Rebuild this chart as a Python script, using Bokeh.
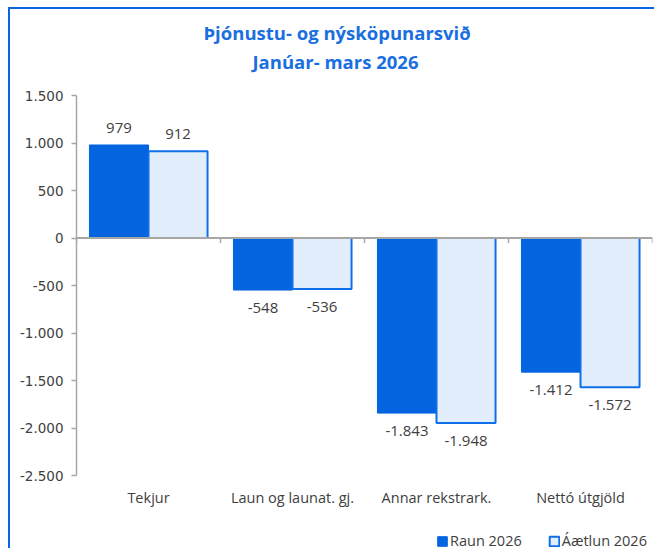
from bokeh.plotting import figure
from bokeh.models import (ColumnDataSource, Range1d, FixedTicker, LinearAxis, Title,
                          Legend, LegendItem, Span)
from bokeh.core.properties import value
from bokeh.transform import dodge
from bokeh.embed import file_html
from bokeh.resources import INLINE
import math

# ---- data ----
categories = ["Tekjur", "Laun og launat. gj.", "Annar rekstrark.", "Nettó útgjöld"]
raun = [979, -548, -1843, -1412]
aaetlun = [912, -536, -1948, -1572]
y_ticks = [-2500, -2000, -1500, -1000, -500, 0, 500, 1000, 1500]
title_1 = "Þjónustu- og nýsköpunarsvið"
title_2 = "Janúar- mars 2026"
series_names = ["Raun 2026", "Áætlun 2026"]


def fmt(v):
    return f"{v:,}".replace(",", ".")


BLUE = "#0564E0"
LIGHT = "#E2EEFB"
EDGE = "#0F6FEA"
TXT = "#404040"
AXIS = "#A6A6A6"
TITLE_C = "#1A6FE0"

n = len(categories)
centers = [float(i) + 0.5 for i in range(n)]
boundaries = [float(i) for i in range(n + 1)]

src = ColumnDataSource(dict(
    x=centers,
    cat=categories,
    base=[y_ticks[0]] * n,
    raun=raun,
    aaetlun=aaetlun,
    raun_lbl=[fmt(v) for v in raun],
    aaetlun_lbl=[fmt(v) for v in aaetlun],
    raun_off=[-17 if v >= 0 else 18 for v in raun],
    aaetlun_off=[-17 if v >= 0 else 18 for v in aaetlun],
))
bsrc = ColumnDataSource(dict(x=boundaries, y=[0.0] * len(boundaries)))

# frame spans from the top of the axis to the bottom of the chart; the extra
# space below the axis holds the category labels and the legend
FRAME_H = 455
AXIS_H = 380
y_lo = y_ticks[-1] - (y_ticks[-1] - y_ticks[0]) * FRAME_H / AXIS_H

p = figure(width=646, height=541, output_backend="svg", toolbar_location=None,
           x_range=Range1d(0, n), y_range=Range1d(y_lo, y_ticks[-1]),
           min_border_left=66, min_border_right=4, min_border_top=86, min_border_bottom=0,
           styles={"border-left": "2px solid #0A66E0", "border-top": "2px solid #0A66E0",
                   "margin-left": "8px", "margin-top": "7px"})
p.outline_line_color = None
p.grid.visible = False
p.xaxis.visible = False
p.yaxis.visible = False

# titles (spacer nearest to the frame, then line 2, then line 1)
p.add_layout(Title(text=" ", text_font_size="1px", standoff=18), "above")
p.add_layout(Title(text=title_2, align="left", offset=176, standoff=2,
                   text_font="Open Sans", text_font_size="18.5px",
                   text_font_style="bold", text_color=TITLE_C), "above")
p.add_layout(Title(text=title_1, align="left", offset=127, standoff=2,
                   text_font="Open Sans", text_font_size="18.5px",
                   text_font_style="bold", text_color=TITLE_C), "above")

# y axis
yax = LinearAxis(ticker=FixedTicker(ticks=y_ticks), bounds=(y_ticks[0], y_ticks[-1]),
                 major_label_overrides={t: fmt(t) for t in y_ticks})
yax.axis_line_color = AXIS
yax.axis_line_width = 1.5
yax.major_tick_line_color = AXIS
yax.major_tick_line_width = 1.5
yax.major_tick_out = 5
yax.major_tick_in = 0
yax.minor_tick_line_color = None
yax.major_label_standoff = 8
yax.major_label_text_font = "DejaVu Sans"
yax.major_label_text_font_size = "13.5px"
yax.major_label_text_color = TXT
p.add_layout(yax, "left")

# bars
r1 = p.vbar(x=dodge("x", -0.205, range=p.x_range), top="raun", width=0.41, source=src,
            fill_color=BLUE, line_color=BLUE, line_width=1)
r2 = p.vbar(x=dodge("x", 0.205, range=p.x_range), top="aaetlun", width=0.41, source=src,
            fill_color=LIGHT, line_color=EDGE, line_width=2)

# zero axis line with category boundary ticks
p.add_layout(Span(location=0, dimension="width", line_color=AXIS, line_width=2))
p.ray(x="x", y="y", length=5, length_units="screen", angle=-math.pi / 2, source=bsrc,
      line_color=AXIS, line_width=1.5)

# data labels
p.text(x=dodge("x", -0.205, range=p.x_range), y="raun", text="raun_lbl", y_offset="raun_off",
       source=src, text_align="center", text_baseline="middle", text_font=value("Open Sans"),
       text_font_size="15px", text_color=TXT)
p.text(x=dodge("x", 0.205, range=p.x_range), y="aaetlun", text="aaetlun_lbl",
       y_offset="aaetlun_off", source=src, text_align="center", text_baseline="middle",
       text_font=value("Open Sans"), text_font_size="15px", text_color=TXT)

# category labels under the axis
p.text(x="x", y="base", text="cat", y_offset=22, source=src, text_align="center",
       text_baseline="middle", text_font=value("Open Sans"), text_font_size="14.5px",
       text_color=TXT)

legend = Legend(items=[LegendItem(label=series_names[0], renderers=[r1]),
                       LegendItem(label=series_names[1], renderers=[r2])],
                orientation="horizontal", location=(360, 0),
                glyph_width=12, glyph_height=12, label_text_font="Open Sans",
                label_text_font_size="14.5px", label_text_color=TXT,
                border_line_color=None, background_fill_alpha=0,
                padding=0, margin=0, spacing=26, label_standoff=2)
p.add_layout(legend, "center")

open("out.html", "w").write(file_html(p, INLINE))
